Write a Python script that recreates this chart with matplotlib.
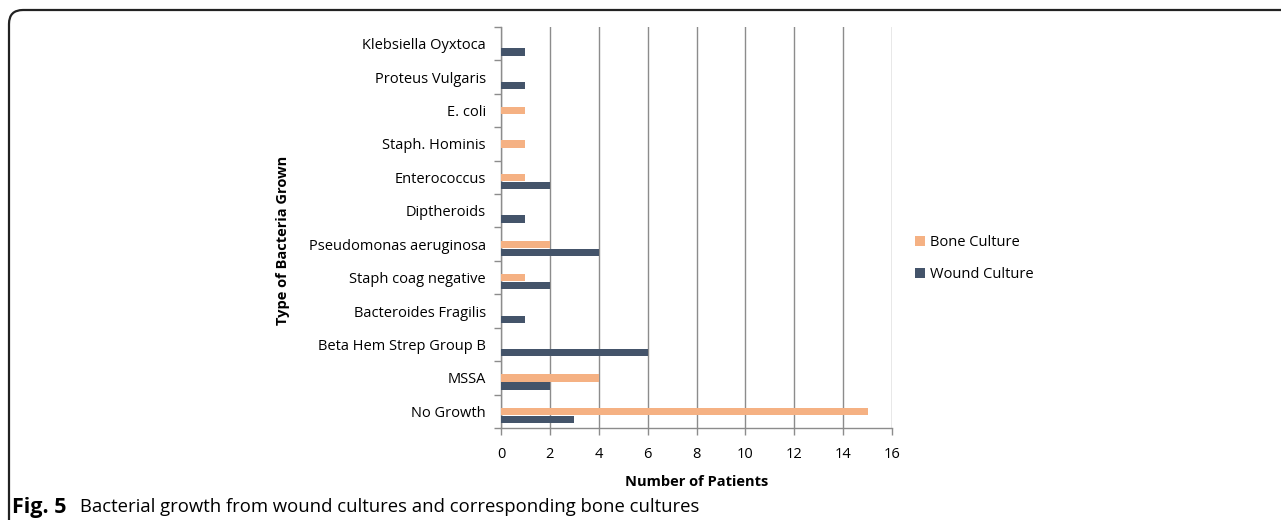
import matplotlib.pyplot as plt
from matplotlib.path import Path
from matplotlib.patches import PathPatch
import numpy as np

plt.rcParams['font.family'] = ['Open Sans', 'DejaVu Sans']

categories = ["No Growth", "MSSA", "Beta Hem Strep Group B", "Bacteroides Fragilis",
              "Staph coag negative", "Pseudomonas aeruginosa", "Diptheroids",
              "Enterococcus", "Staph. Hominis", "E. coli", "Proteus Vulgaris",
              "Klebsiella Oyxtoca"]
bone = [15, 4, 0, 0, 1, 2, 0, 1, 1, 1, 0, 0]
wound = [3, 2, 6, 1, 2, 4, 1, 2, 0, 0, 1, 1]
xticks = [0, 2, 4, 6, 8, 10, 12, 14, 16]

c_bone = "#F5B183"
c_wound = "#44546A"
grid_c = "#8C8C8C"

W, H = 1281, 525
fig = plt.figure(figsize=(W / 100, H / 100), dpi=100)
ax = fig.add_axes([501 / W, 1 - 428 / H, (892 - 501) / W, (428 - 27) / H])

y = np.arange(len(categories))
bh = 0.22
ax.barh(y, bone, height=bh, color=c_bone, label="Bone Culture", zorder=3)
ax.barh(y - 0.245, wound, height=bh, color=c_wound, label="Wound Culture", zorder=3)

ax.set_xlim(0, 16)
ax.set_ylim(-0.5, len(categories) - 0.5)
ax.set_xticks(xticks)
ax.set_xticklabels([str(v) for v in xticks], fontsize=10.5)
ax.set_yticks(y)
ax.set_yticklabels(categories, fontsize=10.5)
ax.set_yticks(np.arange(len(categories) + 1) - 0.5, minor=True)
ax.tick_params(axis='y', which='major', length=0, pad=11)
ax.tick_params(axis='y', which='minor', length=5, color=grid_c, width=1)
ax.tick_params(axis='x', length=5, color=grid_c, width=1, pad=9)
ax.xaxis.grid(True, color=grid_c, linewidth=1, zorder=0)
ax.set_axisbelow(True)
for s in ['top', 'right']:
    ax.spines[s].set_visible(False)
for s in ['left', 'bottom']:
    ax.spines[s].set_color(grid_c)
    ax.spines[s].set_linewidth(1)

ax.set_xlabel("Number of Patients", fontsize=10.5, fontweight='bold', labelpad=9)
fig.text(283 / W, 1 - 240 / H, "Type of Bacteria Grown", rotation=90, fontsize=10.5,
         fontweight='bold', ha='center', va='center')

fig.legend(loc='center left', bbox_to_anchor=(902 / W, 1 - 258.5 / H), frameon=False,
           fontsize=10.5, handlelength=0.7, handleheight=0.7, handletextpad=0.3,
           labelspacing=1.2)

# outer frame with rounded top-left corner
r = 14
verts = [((W + 5) / W, 1 - 10 / H), ((9 + r) / W, 1 - 10 / H), (9 / W, 1 - 10 / H),
         (9 / W, 1 - (10 + r) / H), (9 / W, 1 - 520 / H)]
codes = [Path.MOVETO, Path.LINETO, Path.CURVE3, Path.CURVE3, Path.LINETO]
fig.patches.append(PathPatch(Path(verts, codes), fill=False, edgecolor="#222222",
                             linewidth=1.6, transform=fig.transFigure))

fig.text(12 / W, 1 - 507 / H, "Fig. 5", fontsize=15.5, fontweight='bold', va='center')
fig.text(80 / W, 1 - 507 / H, "Bacterial growth from wound cultures and corresponding bone cultures",
         fontsize=13.3, va='center')

fig.savefig("out.png", dpi=100)
